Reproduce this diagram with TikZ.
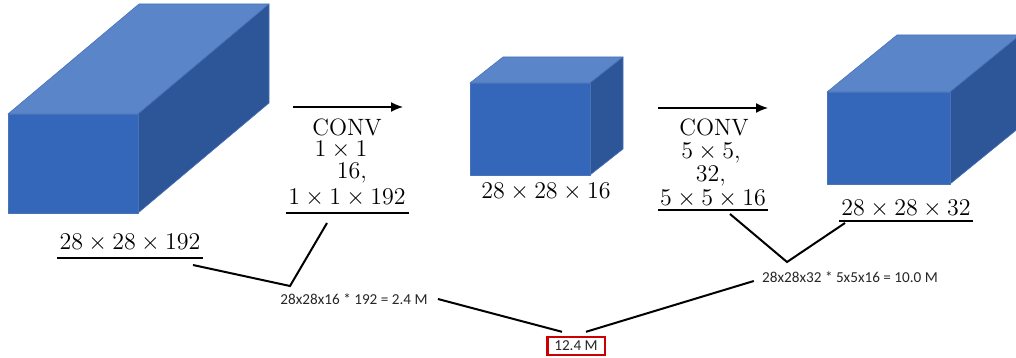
\documentclass[tikz,border=0pt]{standalone}
\usepackage{fontspec}
\newfontfamily\smallsans{Carlito}
\usetikzlibrary{arrows.meta}
\definecolor{frontc}{HTML}{3466BA}
\definecolor{topc}{HTML}{5A86C9}
\definecolor{sidec}{HTML}{2C5697}
\definecolor{edgec}{HTML}{4A72B8}
\newcommand\drawcuboid[6]{%
  \path[face,fill=topc] (#1,#2) -- (#3,#2) -- ++(#5,#6) -- ++({#1-#3},0) -- cycle;
  \path[face,fill=sidec] (#3,#2) -- ++(#5,#6) -- ++(0,{#4-#2}) -- (#3,#4) -- cycle;
  \path[face,fill=frontc] (#1,#2) rectangle (#3,#4);}
\begin{document}
\begin{tikzpicture}[x=0.5pt,y=-0.5pt,
  mathlab/.style={font=\fontsize{12.5}{15}\selectfont, inner sep=0pt, anchor=base},
  convlab/.style={font=\fontsize{11.8}{14}\selectfont, inner sep=0pt, anchor=base},
  calc/.style={font=\fontsize{7.6}{9}\smallsans, inner sep=0pt, text=black!85},
  conn/.style={line width=1pt, black},
  uline/.style={line width=1pt, black},
  convarrow/.style={line width=0.7pt, -{Latex[length=6pt,width=5pt]}},
  face/.style={draw=edgec, line width=0.3pt, line join=round}]
\useasboundingbox (0,0) rectangle (1016,358);
% cuboids
\drawcuboid{8}{114}{138}{213}{131}{-110}
\drawcuboid{470}{83}{590}{175}{33}{-26}
\drawcuboid{827}{92}{950}{184}{70}{-57}
% size labels
\node[mathlab] (d192) at (130,249) {$28\times28\times192$};
\draw[uline] ([xshift=-1pt,yshift=-4.5pt]d192.base west) -- ([xshift=1pt,yshift=-4.5pt]d192.base east);
\node[mathlab] (d16) at (546,198) {$28\times28\times16$};
\node[mathlab] (d32) at (906,215) {$28\times28\times32$};
\draw[uline] ([xshift=-1pt,yshift=-3pt]d32.base west) -- ([xshift=1pt,yshift=-3pt]d32.base east);
% conv 1
\coordinate (a1s) at (293,107);
\coordinate (a1e) at (403,107);
\draw[convarrow] (a1s) -- (a1e);
\node[convlab] (cA1) at (347,135) {CONV};
\node[mathlab] (cB1) at (341,156) {$1\times1$};
\node[mathlab] (cC1) at (352,178) {$16,$};
\node[mathlab] (cD1) at (347,204) {$1\times1\times192$};
\draw[uline] ([xshift=-1pt,yshift=-4.5pt]cD1.base west) -- ([xshift=1.5pt,yshift=-4.5pt]cD1.base east);
% conv 2
\coordinate (a2s) at (658,108);
\coordinate (a2e) at (768,108);
\draw[convarrow] (a2s) -- (a2e);
\node[convlab] (cA2) at (714,135) {CONV};
\node[mathlab] (cB2) at (711,158) {$5\times5,$};
\node[mathlab] (cC2) at (711,181) {$32,$};
\node[mathlab] (cD2) at (713,205) {$5\times5\times16$};
\draw[uline] ([xshift=-1pt,yshift=-2.5pt]cD2.base west) -- ([xshift=1pt,yshift=-2.5pt]cD2.base east);
% calculations
\node[calc] (t24) at (354,299) {28x28x16 * 192 = 2.4 M};
\node[calc] (t10) at (850,277) {28x28x32 * 5x5x16 = 10.0 M};
\node[calc, draw=red!80!black, line width=1.2pt, inner xsep=3.5pt, inner ysep=2pt, minimum height=9pt] (tot) at (576,346) {12.4 M};
% connectors
\coordinate (e1) at (193,265);
\coordinate (v1) at (290,286);
\coordinate (e2) at (327,223);
\draw[conn] (e1) -- (v1) -- (e2);
\coordinate (e3) at (730,214);
\coordinate (v2) at (787,262);
\coordinate (e4) at (845,223);
\draw[conn] (e3) -- (v2) -- (e4);
\draw[conn] ([xshift=5pt]t24.east) -- ([xshift=-7pt,yshift=2pt]tot.north);
\draw[conn] ([xshift=5pt,yshift=2pt]tot.north) -- ([xshift=-4pt,yshift=-2pt]t10.west);
\end{tikzpicture}
\end{document}
